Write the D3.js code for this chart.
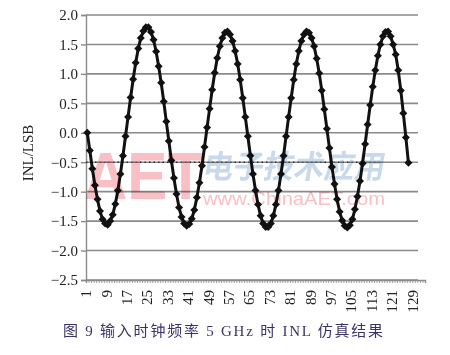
<!DOCTYPE html>
<html>
<head>
<meta charset="utf-8">
<title>INL simulation</title>
<script src="https://d3js.org/d3.v7.min.js"></script>
<style>
    body { margin: 0; background: #fff; }
    svg { display: block; }
</style>
</head>
<body>
<svg id="chart" width="450" height="355"></svg>
<script>
    // category axis runs past the last sample, labels every 8
    const categories = d3.range(1, 134);
    const tickLabels = [1, 9, 17, 25, 33, 41, 49, 57, 65, 73, 81, 89, 97, 105, 113, 121, 129];
    const yTicks = [2.0, 1.5, 1.0, 0.5, 0.0, -0.5, -1.0, -1.5, -2.0, -2.5];

    // INL values, one per code
    const inl = [
        0.00, -0.30, -0.61, -0.89, -1.13, -1.33, -1.47, -1.54, -1.56, -1.50,
        -1.39, -1.21, -0.98, -0.70, -0.39, -0.06, 0.27, 0.60, 0.91, 1.19,
        1.43, 1.61, 1.73, 1.79, 1.79, 1.71, 1.58, 1.38, 1.13, 0.85,
        0.53, 0.19, -0.14, -0.47, -0.77, -1.04, -1.27, -1.43, -1.54, -1.58,
        -1.55, -1.46, -1.31, -1.10, -0.85, -0.56, -0.24, 0.09, 0.41, 0.73,
        1.02, 1.27, 1.47, 1.61, 1.70, 1.72, 1.67, 1.56, 1.39, 1.17,
        0.90, 0.59, 0.27, -0.06, -0.39, -0.70, -0.98, -1.22, -1.41, -1.54,
        -1.60, -1.60, -1.54, -1.41, -1.22, -0.98, -0.70, -0.39, -0.06, 0.27,
        0.59, 0.90, 1.17, 1.39, 1.56, 1.67, 1.72, 1.70, 1.61, 1.47,
        1.26, 1.01, 0.72, 0.40, 0.07, -0.26, -0.58, -0.87, -1.13, -1.34,
        -1.49, -1.58, -1.61, -1.57, -1.47, -1.30, -1.08, -0.82, -0.52, -0.19,
        0.14, 0.47, 0.78, 1.06, 1.31, 1.50, 1.64, 1.71, 1.72, 1.64,
        1.50, 1.33, 1.06, 0.72, 0.33, -0.08, -0.51
    ];

    const svg = d3.select("#chart");
    const plotLeft = 86, plotRight = 425, gridRight = 418, plotTop = 15, plotBottom = 280;

    const x = d3.scaleBand().domain(categories).range([plotLeft, plotRight]);
    const xEdge = d3.scaleLinear().domain([0, categories.length]).range([plotLeft, plotRight]);
    const y = d3.scaleLinear().domain([-2.5, 2.0]).range([plotBottom, plotTop]);

    // horizontal gridlines
    svg.append("g").selectAll("line")
        .data(yTicks)
        .join("line")
        .attr("x1", plotLeft).attr("x2", gridRight)
        .attr("y1", d => y(d)).attr("y2", d => y(d))
        .attr("stroke", "#8a8a8a").attr("stroke-width", 1.6);

    // y axis
    const yAxis = svg.append("g")
        .attr("transform", `translate(${plotLeft},0)`)
        .call(d3.axisLeft(y).tickValues(yTicks).tickSize(5).tickPadding(3)
            .tickFormat(d => d3.format(".1f")(d).replace("-", "\u2212")));
    yAxis.select(".domain").attr("stroke", "#8a8a8a").attr("stroke-width", 1.4);
    yAxis.selectAll(".tick line").attr("stroke", "#8a8a8a").attr("stroke-width", 1.4);
    yAxis.selectAll(".tick text")
        .attr("font-family", "Liberation Serif, serif").attr("font-size", 15).attr("fill", "#222");

    // x axis: small tick on every category boundary
    const xAxis = svg.append("g")
        .attr("transform", `translate(0,${plotBottom})`)
        .call(d3.axisBottom(xEdge).tickValues(d3.range(0, categories.length + 1)).tickSize(3).tickFormat(""));
    xAxis.select(".domain").attr("stroke", "#8a8a8a").attr("stroke-width", 1.4);
    xAxis.selectAll(".tick line").attr("stroke", "#8a8a8a").attr("stroke-width", 0.8);

    svg.append("g").selectAll("text")
        .data(tickLabels)
        .join("text")
        .attr("transform", d => `translate(${x(d) + x.bandwidth() / 2 + 4},290) rotate(-90)`)
        .attr("text-anchor", "end")
        .attr("font-family", "Liberation Serif, serif").attr("font-size", 15).attr("fill", "#222")
        .text(d => d);

    // y title
    svg.append("text")
        .attr("transform", "translate(33,153) rotate(-90)")
        .attr("text-anchor", "middle")
        .attr("font-family", "Liberation Serif, serif").attr("font-size", 15).attr("fill", "#222")
        .text("INL/LSB");

    // series
    const line = d3.line()
        .x((d, i) => x(categories[i]) + x.bandwidth() / 2)
        .y(d => y(d));
    svg.append("path")
        .datum(inl)
        .attr("fill", "none").attr("stroke", "#111").attr("stroke-width", 3)
        .attr("stroke-linejoin", "round")
        .attr("d", line);

    svg.append("g").selectAll("path")
        .data(inl)
        .join("path")
        .attr("transform", (d, i) => `translate(${x(categories[i]) + x.bandwidth() / 2},${y(d)}) rotate(45)`)
        .attr("d", d3.symbol(d3.symbolSquare, 32))
        .attr("fill", "#111");

    // watermark overlay
    const wm = svg.append("g").style("mix-blend-mode", "multiply");
    wm.append("line")
        .attr("x1", plotLeft).attr("x2", 380).attr("y1", y(-0.5)).attr("y2", y(-0.5))
        .attr("stroke", "#444").attr("stroke-width", 1.6).attr("stroke-dasharray", "1.5,3");
    wm.append("text")
        .attr("x", 84).attr("y", 199)
        .attr("textLength", 120).attr("lengthAdjust", "spacingAndGlyphs")
        .attr("font-family", "Liberation Sans, sans-serif").attr("font-weight", "bold").attr("font-size", 66)
        .attr("fill", "#f6a6ad").attr("opacity", 0.7)
        .text("AET");
    wm.append("text")
        .attr("x", 203).attr("y", 178)
        .attr("textLength", 182).attr("lengthAdjust", "spacingAndGlyphs")
        .attr("transform", "skewX(-10) translate(30,0)")
        .attr("font-family", "Noto Sans CJK SC").attr("font-weight", "bold").attr("font-size", 32)
        .attr("fill", "#b7cde2").attr("opacity", 0.75)
        .text("电子技术应用");
    wm.append("text")
        .attr("x", 203).attr("y", 205)
        .attr("textLength", 182).attr("lengthAdjust", "spacingAndGlyphs")
        .attr("font-family", "Liberation Sans, sans-serif").attr("font-size", 19)
        .attr("fill", "#f7aab1").attr("opacity", 0.75)
        .text("www.ChinaAET.com");

    // caption
    svg.append("text")
        .attr("x", 63).attr("y", 336)
        .attr("textLength", 320).attr("lengthAdjust", "spacing")
        .attr("font-family", "Liberation Serif, Noto Sans CJK SC").attr("font-size", 15).attr("fill", "#3a3368")
        .text("图 9  输入时钟频率 5 GHz 时 INL 仿真结果");
</script>
</body>
</html>
